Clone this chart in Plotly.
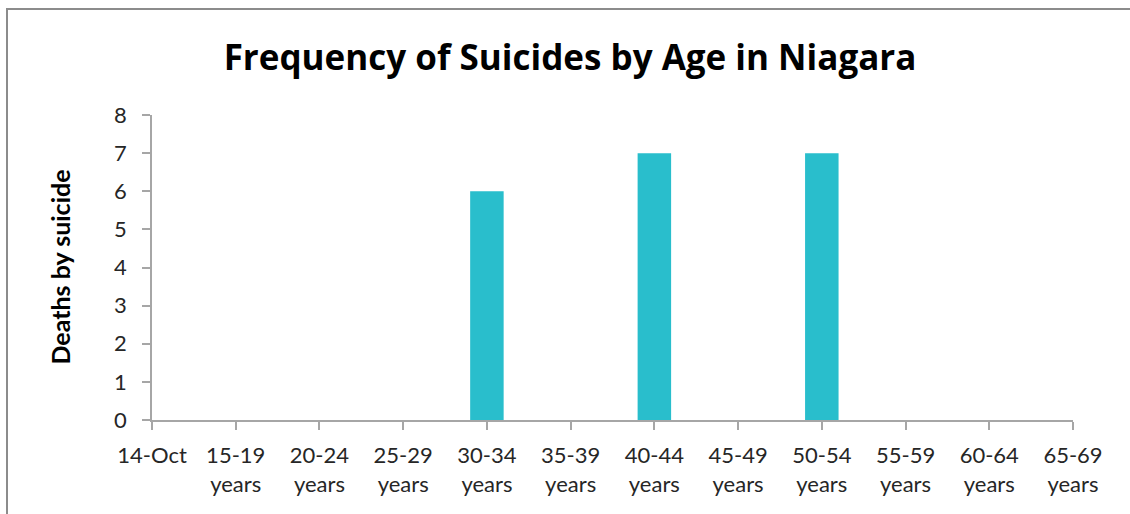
import plotly.graph_objects as go

categories = ["14-Oct", "15-19 years", "20-24 years", "25-29 years", "30-34 years",
              "35-39 years", "40-44 years", "45-49 years", "50-54 years",
              "55-59 years", "60-64 years", "65-69 years"]
deaths = [0, 0, 0, 0, 6, 0, 7, 0, 7, 0, 0, 0]
y_ticks = [0, 1, 2, 3, 4, 5, 6, 7, 8]

tick_text = [c.replace(" ", "<br>") for c in categories]
xpos = list(range(len(categories)))

W, H = 1130, 514
L, R, T, B = 152, 57, 115, 94
pw, ph = W - L - R, H - T - B

fig = go.Figure()
fig.add_trace(go.Bar(
    x=xpos, y=deaths, width=0.4,
    marker=dict(color="#29BECC", line=dict(width=0)),
    showlegend=False, hoverinfo="x+y",
))

axis_font = dict(family="Lato", size=22, color="#262626")
fig.update_layout(
    width=W, height=H,
    margin=dict(l=L, r=R, t=T, b=B),
    paper_bgcolor="white", plot_bgcolor="white",
    title=dict(text="<b>Frequency of Suicides by Age in Niagara</b>",
               font=dict(family="Open Sans", size=35, color="black"),
               x=570 / W, xanchor="center", xref="container",
               y=1 - 58 / H, yanchor="middle", yref="container"),
    xaxis=dict(range=[0, len(categories) - 1], tickvals=xpos, ticktext=tick_text,
               showline=True, linecolor="#a6a6a6", linewidth=1.5,
               ticks="outside", ticklen=8, tickcolor="#a6a6a6", tickwidth=1.5,
               ticklabelstandoff=7,
               showgrid=False, zeroline=False, tickfont=axis_font, fixedrange=True),
    yaxis=dict(range=[0, 8], tickvals=y_ticks,
               showline=True, linecolor="#a6a6a6", linewidth=1.5,
               ticks="outside", ticklen=8, tickcolor="#a6a6a6", tickwidth=1.5,
               ticklabelstandoff=11,
               showgrid=False, zeroline=False, tickfont=axis_font, fixedrange=True),
)

fig.add_annotation(text="<b>Deaths by suicide</b>", textangle=-90,
                   x=(59 - L) / pw, y=0.5, xref="paper", yref="paper",
                   showarrow=False, font=dict(family="Lato", size=25, color="black"),
                   xanchor="center", yanchor="middle")

# outer chart-area border (partly outside the visible frame)
fig.add_shape(type="rect", xref="paper", yref="paper",
              x0=(7 - L) / pw, x1=(W + 10 - L) / pw,
              y0=-(B + 20) / ph, y1=(H - B - 9) / ph,
              line=dict(color="#8c8c8c", width=2), layer="below")

fig.write_html("out.html")
